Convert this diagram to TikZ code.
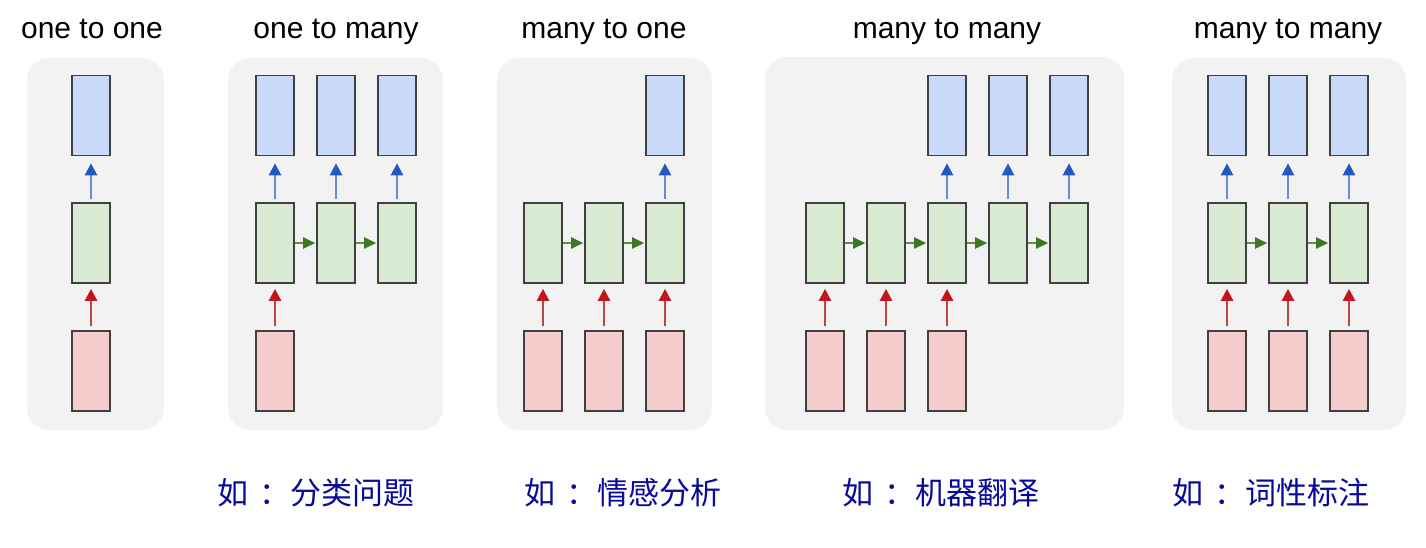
\documentclass[tikz,border=0pt]{standalone}
\usepackage{fontspec}
\setmainfont{Liberation Sans}
\newfontfamily\cjk{Noto Sans CJK SC}
\usetikzlibrary{arrows.meta}
\definecolor{bluefill}{HTML}{C9DAF8}
\definecolor{greenfill}{HTML}{D9EAD3}
\definecolor{redfill}{HTML}{F4CCCC}
\definecolor{edgecol}{HTML}{404040}
\definecolor{panelgray}{HTML}{F2F2F2}
\definecolor{notecol}{HTML}{0A0A9A}
\definecolor{bluearr}{HTML}{2258C2}
\definecolor{bluelin}{HTML}{6A8CCC}
\definecolor{greenarr}{HTML}{3A7A22}
\definecolor{greenlin}{HTML}{5E8E4C}
\definecolor{redarr}{HTML}{C4141C}
\definecolor{redlin}{HTML}{B44A4E}
\begin{document}
\begin{tikzpicture}[x=1pt,y=-1pt,
  cell/.style={draw=edgecol, line width=1.6pt, minimum width=38pt, minimum height=80pt, inner sep=0pt},
  outbox/.style={cell, fill=bluefill},
  hidbox/.style={cell, fill=greenfill},
  inbox/.style={cell, fill=redfill},
  panel/.style={fill=panelgray, rounded corners=22pt},
  title/.style={font=\fontsize{30}{34}\selectfont, text=black, anchor=base, inner sep=0pt},
  note/.style={font=\cjk\fontsize{31}{36}\selectfont, text=notecol, inner sep=0pt},
  uparrb/.style={draw=bluelin, line width=2.4pt, -{Triangle[length=12pt,width=12pt,color=bluearr]}, shorten >=7pt, shorten <=3pt},
  uparrr/.style={draw=redlin, line width=2.4pt, -{Triangle[length=12pt,width=12pt,color=redarr]}, shorten >=5pt, shorten <=4pt},
  rarr/.style={draw=greenlin, line width=2.4pt, -{Triangle[length=12pt,width=11pt,color=greenarr]}, shorten >=1pt},
]
\useasboundingbox (0,0) rectangle (1426,547);
\fill[white] (0,0) rectangle (1426,547);

% panels
\path[panel] (27,58) rectangle (164,430);
\path[panel] (228,58) rectangle (443,430);
\path[panel] (497,58) rectangle (712,430);
\path[panel] (765,57) rectangle (1124,430);
\path[panel] (1172,58) rectangle (1406,430);

% titles
\node[title] (t1) at (92,38) {one to one};
\node[title] (t2) at (336,38) {one to many};
\node[title] (t3) at (604,38) {many to one};
\node[title] (t4) at (947,38) {many to many};
\node[title] (t5) at (1288,38) {many to many};

% panel 1: one to one
\node[outbox] (a1o) at (91,115.5) {};
\node[hidbox] (a1h) at (91,243) {};
\node[inbox]  (a1i) at (91,371) {};
\draw[uparrb] (a1h) -- (a1o);
\draw[uparrr] (a1i) -- (a1h);

% panel 2: one to many
\foreach \k/\x in {1/275,2/336,3/397}{
  \node[outbox] (b\k o) at (\x,115.5) {};
  \node[hidbox] (b\k h) at (\x,243) {};
  \draw[uparrb] (b\k h) -- (b\k o);
}
\node[inbox] (b1i) at (275,371) {};
\draw[uparrr] (b1i) -- (b1h);
\draw[rarr] (b1h) -- (b2h);
\draw[rarr] (b2h) -- (b3h);

% panel 3: many to one
\foreach \k/\x in {1/543,2/604,3/665}{
  \node[hidbox] (c\k h) at (\x,243) {};
  \node[inbox] (c\k i) at (\x,371) {};
  \draw[uparrr] (c\k i) -- (c\k h);
}
\node[outbox] (c3o) at (665,115.5) {};
\draw[uparrb] (c3h) -- (c3o);
\draw[rarr] (c1h) -- (c2h);
\draw[rarr] (c2h) -- (c3h);

% panel 4: many to many (seq2seq)
\foreach \k/\x in {1/825,2/886,3/947,4/1008,5/1069}{
  \node[hidbox] (d\k h) at (\x,243) {};
}
\foreach \k in {1,2,3}{
  \node[inbox] (d\k i) at (d\k h |- 0,371) {};
  \draw[uparrr] (d\k i) -- (d\k h);
}
\foreach \k in {3,4,5}{
  \node[outbox] (d\k o) at (d\k h |- 0,115.5) {};
  \draw[uparrb] (d\k h) -- (d\k o);
}
\draw[rarr] (d1h) -- (d2h);
\draw[rarr] (d2h) -- (d3h);
\draw[rarr] (d3h) -- (d4h);
\draw[rarr] (d4h) -- (d5h);

% panel 5: many to many (synced)
\foreach \k/\x in {1/1227,2/1288,3/1349}{
  \node[outbox] (e\k o) at (\x,115.5) {};
  \node[hidbox] (e\k h) at (\x,243) {};
  \node[inbox] (e\k i) at (\x,371) {};
  \draw[uparrb] (e\k h) -- (e\k o);
  \draw[uparrr] (e\k i) -- (e\k h);
}
\draw[rarr] (e1h) -- (e2h);
\draw[rarr] (e2h) -- (e3h);

% notes
\node[note] (n1) at (316,493) {如\hspace{11pt}：分类问题};
\node[note] (n2) at (623,493) {如\hspace{11pt}：情感分析};
\node[note] (n3) at (941,493) {如\hspace{11pt}：机器翻译};
\node[note] (n4) at (1271,493) {如\hspace{11pt}：词性标注};
\end{tikzpicture}
\end{document}
